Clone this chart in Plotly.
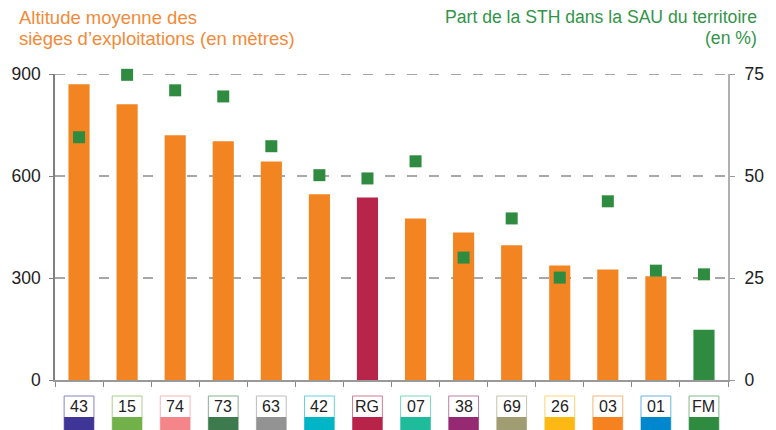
import plotly.graph_objects as go

# ---- data ----
categories = ["43", "15", "74", "73", "63", "42", "RG", "07", "38", "69", "26", "03", "01", "FM"]
altitude_m = [870, 811, 720, 702, 643, 546, 537, 475, 434, 396, 337, 325, 305, 148]
sth_share_pct = [59.5, 74.8, 71.0, 69.5, 57.3, 50.2, 49.4, 53.6, 30.0, 39.6, 25.1, 43.8, 26.8, 25.9]
cat_colors = ["#3F3597", "#72B04A", "#F4868A", "#3D7A4D", "#939393", "#00B5C6", "#B8234A",
              "#1EBC9B", "#952A72", "#A09D73", "#FDB913", "#F5821F", "#0087CD", "#2E8B40"]
bar_colors = ["#F28522"] * 6 + ["#B8254B"] + ["#F28522"] * 6 + ["#2E8B40"]
left_ticks = [0, 300, 600, 900]
right_ticks = [0, 25, 50, 75]
left_title = ["Altitude moyenne des", "sièges d’exploitations (en mètres)"]
right_title = ["Part de la STH dans la SAU du territoire", "(en %)"]

W, H = 776, 430
ML, MR, MT, MB = 55, 46, 74, 50
PW, PH = W - ML - MR, H - MT - MB

def py(pix):  # pixel y -> paper y
    return (H - MB - pix) / PH

def px(pix):
    return (pix - ML) / PW

FONT = "Liberation Sans, Arial, sans-serif"

fig = go.Figure()
fig.add_trace(go.Bar(x=categories, y=altitude_m, marker=dict(color=bar_colors, line=dict(width=0)),
                     width=0.44, yaxis="y", showlegend=False, hoverinfo="x+y"))
fig.add_trace(go.Scatter(x=categories, y=sth_share_pct, mode="markers", yaxis="y2",
                         marker=dict(symbol="square", size=12, color="#2E8B40", line=dict(width=0)),
                         cliponaxis=False, showlegend=False))

shapes = []
annotations = []
# dashed horizontal grid lines at the left-axis tick values
for t in left_ticks[1:]:
    shapes.append(dict(type="line", xref="paper", yref="y", x0=0, x1=1, y0=t, y1=t,
                       line=dict(color="#8c8c8c", width=1.5, dash="10px,12px"), layer="below"))

for i, (c, col) in enumerate(zip(categories, cat_colors)):
    shapes.append(dict(type="rect", xref="x", yref="paper", x0=i - 0.31, x1=i + 0.31,
                       y0=py(431), y1=py(396), fillcolor="white",
                       line=dict(color=col, width=1), opacity=0.6, layer="above"))
    shapes.append(dict(type="rect", xref="x", yref="paper", x0=i - 0.31, x1=i + 0.31,
                       y0=py(431), y1=py(417), fillcolor=col, line=dict(width=0), layer="above"))
    annotations.append(dict(x=i, y=py(406.5), xref="x", yref="paper", text=c, showarrow=False,
                            font=dict(family=FONT, size=16, color="#222222"),
                            xanchor="center", yanchor="middle"))

for k, line in enumerate(left_title):
    annotations.append(dict(x=px(17), y=py(30 + 21 * k), xref="paper", yref="paper",
                            xanchor="left", yanchor="bottom", showarrow=False, text=line,
                            font=dict(family=FONT, size=18.5, color="#F28A38")))
for k, line in enumerate(right_title):
    annotations.append(dict(x=px(761), y=py(29 + 21 * k), xref="paper", yref="paper",
                            xanchor="right", yanchor="bottom", showarrow=False, text=line,
                            font=dict(family=FONT, size=17.6, color="#33944A")))

fig.update_layout(
    width=W, height=H, margin=dict(l=ML, r=MR, t=MT, b=MB),
    plot_bgcolor="white", paper_bgcolor="white",
    font=dict(family=FONT, size=17, color="#222222"),
    shapes=shapes, annotations=annotations, showlegend=False,
    xaxis=dict(type="category", showline=True, linecolor="#999999", linewidth=2,
               ticks="outside", ticklen=5, tickcolor="#888888", tickson="boundaries",
               showticklabels=False, showgrid=False, range=[-0.5, len(categories) - 0.5]),
    yaxis=dict(range=[0, 900], tickvals=left_ticks, showline=True, linecolor="#808080", linewidth=1.5,
               ticks="outside", ticklen=4, tickcolor="#808080", showgrid=False, zeroline=False,
               tickfont=dict(family=FONT, size=17.5, color="#222222"), ticklabelstandoff=5),
    yaxis2=dict(range=[0, 75], tickvals=right_ticks, overlaying="y", side="right", showline=True,
                linecolor="#b0b0b0", linewidth=2, ticks="outside", ticklen=5, tickcolor="#999999",
                showgrid=False, zeroline=False,
                tickfont=dict(family=FONT, size=17.5, color="#222222"), ticklabelstandoff=6),
    bargap=0.56,
)

fig.write_html("out.html", config={"displayModeBar": False},
               post_script="document.body.style.margin='0';document.body.style.padding='0';")
